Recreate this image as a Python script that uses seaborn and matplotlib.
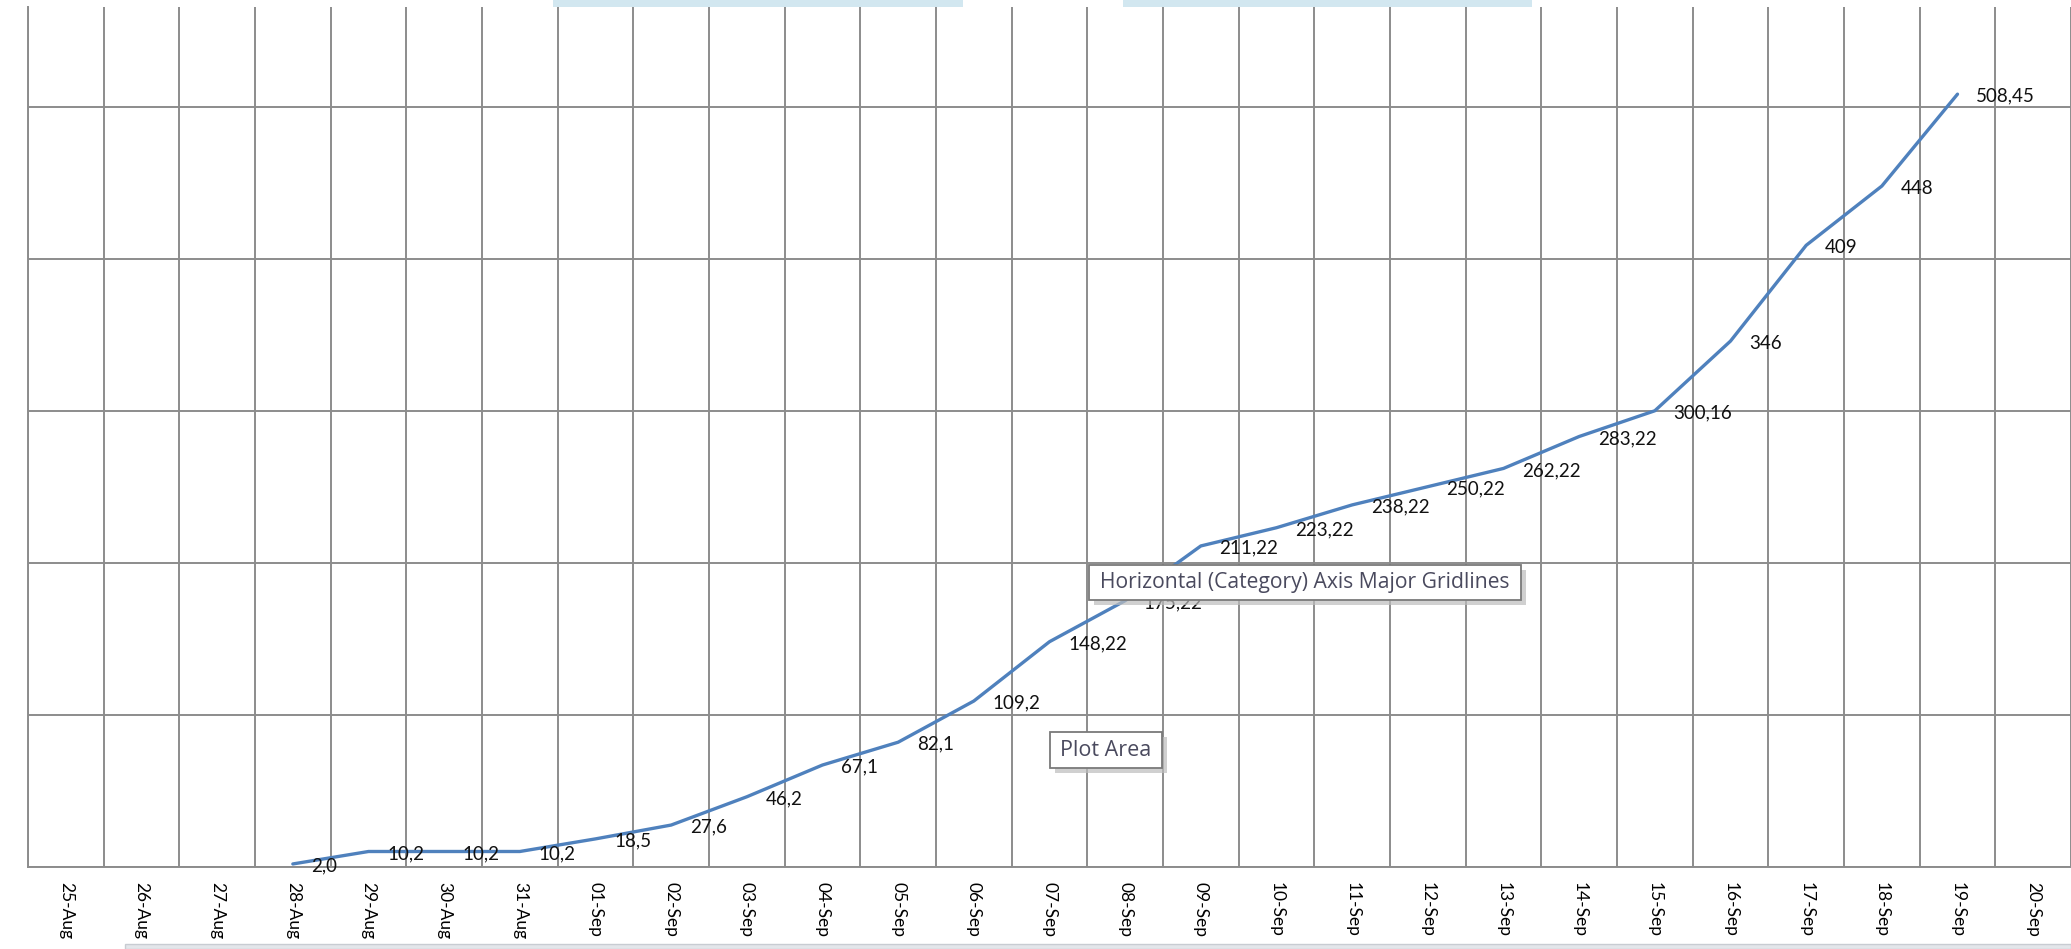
import matplotlib
matplotlib.use('Agg')
import matplotlib.pyplot as plt
import seaborn as sns
import pandas as pd
from matplotlib.patches import Rectangle

# categories on the x axis (Excel style: points sit between gridlines)
dates = ['25-Aug', '26-Aug', '27-Aug', '28-Aug', '29-Aug', '30-Aug', '31-Aug',
         '01-Sep', '02-Sep', '03-Sep', '04-Sep', '05-Sep', '06-Sep', '07-Sep',
         '08-Sep', '09-Sep', '10-Sep', '11-Sep', '12-Sep', '13-Sep', '14-Sep',
         '15-Sep', '16-Sep', '17-Sep', '18-Sep', '19-Sep', '20-Sep']

point_dates = ['28-Aug', '29-Aug', '30-Aug', '31-Aug', '01-Sep', '02-Sep',
               '03-Sep', '04-Sep', '05-Sep', '06-Sep', '07-Sep', '08-Sep',
               '09-Sep', '10-Sep', '11-Sep', '12-Sep', '13-Sep', '14-Sep',
               '15-Sep', '16-Sep', '17-Sep', '18-Sep', '19-Sep']
values = [2.0, 10.2, 10.2, 10.2, 18.5, 27.6, 46.2, 67.1, 82.1, 109.2,
          148.22, 175.22, 211.22, 223.22, 238.22, 250.22, 262.22, 283.22,
          300.16, 346, 409, 448, 508.45]
point_labels = ['2,0', '10,2', '10,2', '10,2', '18,5', '27,6', '46,2', '67,1',
                '82,1', '109,2', '148,22', '175,22', '211,22', '223,22',
                '238,22', '250,22', '262,22', '283,22', '300,16', '346', '409',
                '448', '508,45']
y_ticks = [0, 100, 200, 300, 400, 500]

W, H = 2071, 949
GRID = '#8c8c8c'

sns.set_style('white')
plt.rcParams['font.family'] = ['Lato', 'DejaVu Sans']

df = pd.DataFrame({'date': point_dates, 'value': values, 'label': point_labels})
df['pos'] = [dates.index(d) for d in df['date']]

fig = plt.figure(figsize=(W / 100, H / 100), dpi=100)
left = 28 / W
bottom = (H - 867) / H
ax = fig.add_axes([left, bottom, 1 - left, (867 - 7) / H])

sns.lineplot(data=df, x='pos', y='value', ax=ax, color='#4f81bd',
             linewidth=2.4, zorder=3)

for _, r in df.iterrows():
    ax.annotate(r['label'], (r['pos'], r['value']), xytext=(13.5, -1.5),
                textcoords='offset points', ha='left', va='center',
                fontsize=13.5, color='#111111', zorder=4)

step = 75.85
ax.set_xlim(-0.5, 25.5 + (W - 2000) / step)
ax.set_ylim(0, 500 + 100 * (107 - 7) / 152)

ax.set_xticks(range(len(dates)))
ax.set_xticklabels(dates, rotation=-90, fontsize=12.5, color='#000000')
ax.set_xticks([i - 0.5 for i in range(len(dates) + 1)], minor=True)
ax.tick_params(axis='x', which='major', length=0, pad=11)
ax.tick_params(axis='x', which='minor', length=4.5, width=1.4, color=GRID,
               direction='out')
ax.set_yticks(y_ticks)
ax.tick_params(axis='y', which='major', length=12, width=1.4, color=GRID,
               direction='out', labelleft=False)
for lbl in ax.get_xticklabels():
    lbl.set_va('top')
    lbl.set_ha('center')

ax.grid(False)
ax.grid(True, axis='x', which='minor', color=GRID, linewidth=1.4)
ax.grid(True, axis='y', which='major', color=GRID, linewidth=1.4)
ax.set_axisbelow(True)
ax.set_xlabel('')
ax.set_ylabel('')
for s in ['top', 'right']:
    ax.spines[s].set_visible(False)
for s in ['left', 'bottom']:
    ax.spines[s].set_color(GRID)
    ax.spines[s].set_linewidth(1.4)


def px_rect(x0, y0, x1, y1, **kw):
    # rectangle given in image pixels (origin top-left)
    r = Rectangle((x0 / W, 1 - y1 / H), (x1 - x0) / W, (y1 - y0) / H,
                  transform=fig.transFigure, **kw)
    fig.add_artist(r)
    return r


# bits of the Excel window around the chart
px_rect(553, 0, 963, 7, facecolor='#d2e7f0', edgecolor='none')
px_rect(1123, 0, 1532, 7, facecolor='#d2e7f0', edgecolor='none')
px_rect(125, 944, W, H, facecolor='#e3e6ea', edgecolor='#c8ccd2', linewidth=1)


def tooltip(x0, y0, x1, y1, text, fs):
    px_rect(x0 + 5, y0 + 5, x1 + 5, y1 + 5, facecolor='#bdbdbd',
            edgecolor='none', alpha=0.7, zorder=10)
    px_rect(x0, y0, x1, y1, facecolor='white', edgecolor='#7a7a7a',
            linewidth=1.3, zorder=11)
    fig.text((x0 + x1) / 2 / W, 1 - (y0 + y1) / 2 / H, text, ha='center',
             va='center', fontsize=fs, color='#4a4a5e', family=['Open Sans', 'DejaVu Sans'],
             zorder=12)


tooltip(1089, 565, 1521, 600, 'Horizontal (Category) Axis Major Gridlines', 15.2)
tooltip(1050, 732, 1162, 768, 'Plot Area', 15.5)

fig.savefig('out.png', dpi=100)
